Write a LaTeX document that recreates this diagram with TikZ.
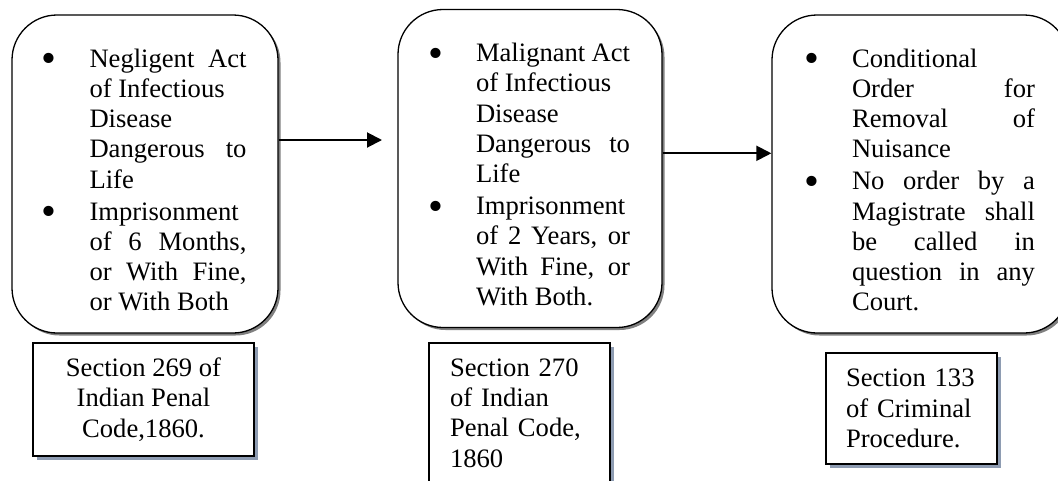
\documentclass[tikz,border=0pt]{standalone}
\usepackage{fontspec}
\setmainfont{Liberation Serif}
\usepackage{xcolor}
\usetikzlibrary{arrows.meta,positioning,shadows}
\definecolor{refshadow}{HTML}{8E9CB2}
\tikzset{
  >={Triangle[length=15pt,width=15pt]},
  card/.style = {draw, rounded corners=45pt, line width=1.3pt, fill=white, inner sep=0pt, align=justify, minimum height=318pt,
                 drop shadow={shadow xshift=2.5pt, shadow yshift=-2.5pt, fill=black!50, opacity=1}},
  ref/.style  = {draw, line width=1.3pt, fill=white, inner xsep=20pt, inner ysep=0pt,
                 drop shadow={shadow xshift=4pt, shadow yshift=-4pt, fill=refshadow, opacity=1}},
  link/.style = {->, line width=2pt},
  every node/.style = {font=\fontsize{26.6}{30.3}\selectfont}
}
\newcommand{\dotmark}{\raisebox{-5.5pt}{\scalebox{1.6}{\textbullet}}}
\newenvironment{points}{%
  \tolerance=10000\hbadness=10000
  \begin{list}{\dotmark}{\setlength{\leftmargin}{46pt}\setlength{\labelwidth}{46pt}%
    \setlength{\labelsep}{0pt}\setlength{\itemsep}{1.5pt}\setlength{\parsep}{0pt}%
    \setlength{\topsep}{0pt}\setlength{\partopsep}{0pt}\renewcommand{\makelabel}[1]{\hspace{-2pt}##1\hfil}}}
  {\end{list}}

\begin{document}
\begin{tikzpicture}[x=1pt,y=-1pt]
\clip (0,0) rectangle (1058,480);
% Section 269
\node[card, minimum width=266pt, text width=203pt] (card1) at (145,174) {\begin{points}
  \item Negligent Act\linebreak of Infectious\newline Disease\newline Dangerous to\linebreak Life
  \item Imprisonment\newline of 6 Months,\linebreak or With Fine,\linebreak or With Both
\end{points}};
\node[ref, minimum width=221pt, minimum height=113pt, align=center] (ref1) at (143.5,399.5)
  {Section 269 of\\Indian Penal\\Code,1860.};

% Section 270
\node[card, minimum width=264pt, text width=200pt] (card2) at (530,168.5) {\begin{points}
  \item Malignant Act\linebreak of Infectious\newline Disease\newline Dangerous to\linebreak Life
  \item Imprisonment\newline of 2 Years, or\linebreak With Fine, or\linebreak With Both.
\end{points}};
\node[ref, minimum width=181pt, minimum height=140pt, text width=139pt, align=left] (ref2) at (519.5,413)
  {Section 270\\of Indian\\Penal Code,\\1860};

% Section 133
\node[card, minimum width=297pt, text width=229pt] (card3) at (920.5,174) {\begin{points}
  \item Conditional\newline Order for\linebreak Removal of\linebreak Nuisance
  \item No order by a\linebreak Magistrate shall\linebreak be called in\linebreak question in any\linebreak Court.
\end{points}};
\node[ref, minimum width=171pt, minimum height=111pt, text width=131pt, align=left] (ref3) at (911.5,408.5)
  {Section 133\\of Criminal\\Procedure.};

\coordinate (tip1) at (382,140);
\coordinate (lvl2) at (0,153.3);
\draw[link] (card1.east |- tip1) -- (tip1);
\draw[link] (card2.east |- lvl2) -- (card3.west |- lvl2);
\end{tikzpicture}
\end{document}
